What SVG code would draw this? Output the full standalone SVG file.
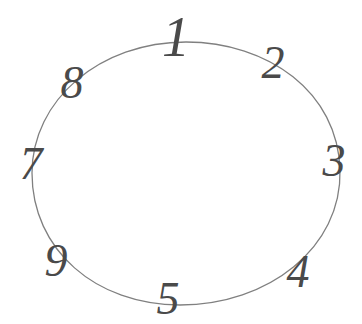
<svg xmlns="http://www.w3.org/2000/svg" width="362" height="324" viewBox="0 0 362 324">
<style>
.lbl{font-family:"Liberation Serif","DejaVu Serif",serif;font-style:italic;fill:#4a4a4a;text-anchor:middle}
.ring{fill:none;stroke:#808080;stroke-width:1.3}
</style>
<rect width="362" height="324" fill="#ffffff"/>
<g id="connectors">
<path class="ring" d="M186,42 C268,42 338,92 340,170 C342,248 268,305 180,305 C96,305 32,250 32,173 C32,100 100,42 186,42 Z"/>
</g>
<g id="n1"><text class="lbl" x="176" y="56" font-size="56">1</text></g>
<g id="n2"><text class="lbl" x="273" y="78" font-size="46">2</text></g>
<g id="n3"><text class="lbl" x="334" y="176" font-size="46">3</text></g>
<g id="n4"><text class="lbl" x="298" y="287" font-size="46">4</text></g>
<g id="n5"><text class="lbl" x="168" y="314" font-size="46">5</text></g>
<g id="n9"><text class="lbl" x="56" y="276" font-size="46">9</text></g>
<g id="n7"><text class="lbl" x="31" y="179" font-size="46">7</text></g>
<g id="n8"><text class="lbl" x="72" y="98" font-size="46">8</text></g>
</svg>
